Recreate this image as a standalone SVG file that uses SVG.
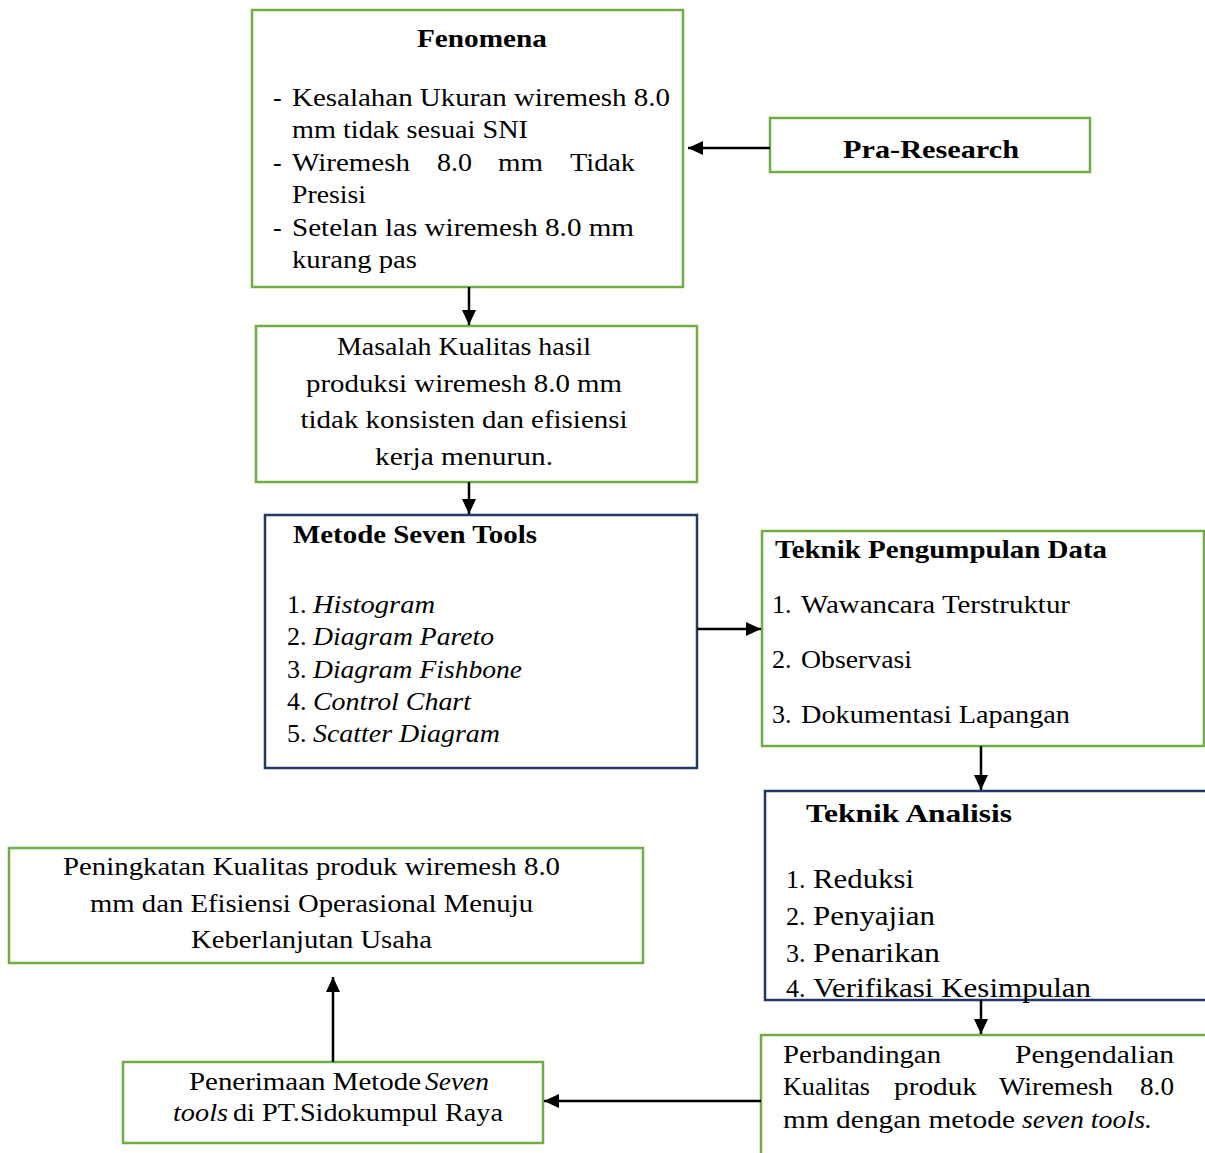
<svg xmlns="http://www.w3.org/2000/svg" width="1205" height="1153" viewBox="0 0 1205 1153">
<style>
.g{fill:#fff;stroke:#70AD47;stroke-width:2.5}
.b{fill:#fff;stroke:#203864;stroke-width:2.5}
text{font-family:"Liberation Serif","Times New Roman",serif;fill:#000;font-size:26px}
.h{font-weight:bold;font-size:26px}
.c{text-anchor:middle}
.i{font-style:italic}
.n{font-size:27px}
.conn{stroke:#000;stroke-width:2.5;fill:none;marker-end:url(#ah)}
</style>
<defs>
<marker id="ah" markerUnits="userSpaceOnUse" markerWidth="16" markerHeight="14" refX="15" refY="7" orient="auto">
<path d="M0,0 L15,7 L0,14 Z" fill="#000"/>
</marker>
</defs>
<rect width="1205" height="1153" fill="#fff"/>

<g id="fenomena">
<rect class="g" x="252" y="10" width="431" height="277"/>
<text class="h" x="482" y="47" text-anchor="middle" textLength="130" lengthAdjust="spacingAndGlyphs">Fenomena</text>
<text x="273" y="106">-</text>
<text x="292" y="106" textLength="378" lengthAdjust="spacingAndGlyphs">Kesalahan Ukuran wiremesh 8.0</text>
<text x="292" y="138" textLength="236" lengthAdjust="spacingAndGlyphs">mm tidak sesuai SNI</text>
<text x="273" y="171">-</text>
<text x="292" y="171" textLength="118" lengthAdjust="spacingAndGlyphs">Wiremesh</text>
<text x="437" y="171" textLength="35" lengthAdjust="spacingAndGlyphs">8.0</text>
<text x="498" y="171" textLength="45" lengthAdjust="spacingAndGlyphs">mm</text>
<text x="570" y="171" textLength="65" lengthAdjust="spacingAndGlyphs">Tidak</text>
<text x="292" y="203" textLength="74" lengthAdjust="spacingAndGlyphs">Presisi</text>
<text x="273" y="236">-</text>
<text x="292" y="236" textLength="342" lengthAdjust="spacingAndGlyphs">Setelan las wiremesh 8.0 mm</text>
<text x="292" y="268" textLength="125" lengthAdjust="spacingAndGlyphs">kurang pas</text>
</g>

<g id="pra-research">
<rect class="g" x="770" y="118" width="320" height="54"/>
<text class="h" x="931" y="158" text-anchor="middle" font-size="28" textLength="176" lengthAdjust="spacingAndGlyphs">Pra-Research</text>
</g>

<g id="masalah">
<rect class="g" x="256" y="326" width="441" height="156"/>
<text class="c" x="464" y="355" textLength="254" lengthAdjust="spacingAndGlyphs">Masalah Kualitas hasil</text>
<text class="c" x="464" y="392" textLength="316" lengthAdjust="spacingAndGlyphs">produksi wiremesh 8.0 mm</text>
<text class="c" x="464" y="428" textLength="327" lengthAdjust="spacingAndGlyphs">tidak konsisten dan efisiensi</text>
<text class="c" x="464" y="465" textLength="178" lengthAdjust="spacingAndGlyphs">kerja menurun.</text>
</g>

<g id="metode">
<rect class="b" x="265" y="515" width="432" height="253"/>
<text class="h" x="293" y="543" textLength="244" lengthAdjust="spacingAndGlyphs">Metode Seven Tools</text>
<text x="287" y="613">1.</text>
<text class="i" x="313" y="613" textLength="122" lengthAdjust="spacingAndGlyphs">Histogram</text>
<text x="287" y="645">2.</text>
<text class="i" x="313" y="645" textLength="181" lengthAdjust="spacingAndGlyphs">Diagram Pareto</text>
<text x="287" y="678">3.</text>
<text class="i" x="313" y="678" textLength="209" lengthAdjust="spacingAndGlyphs">Diagram Fishbone</text>
<text x="287" y="710">4.</text>
<text class="i" x="313" y="710" textLength="158" lengthAdjust="spacingAndGlyphs">Control Chart</text>
<text x="287" y="742">5.</text>
<text class="i" x="313" y="742" textLength="187" lengthAdjust="spacingAndGlyphs">Scatter Diagram</text>
</g>

<g id="teknik-pengumpulan">
<rect class="g" x="762" y="531" width="442" height="215"/>
<text class="h" x="775" y="558" textLength="332" lengthAdjust="spacingAndGlyphs">Teknik Pengumpulan Data</text>
<text x="772" y="613">1.</text>
<text x="801" y="613" textLength="269" lengthAdjust="spacingAndGlyphs">Wawancara Terstruktur</text>
<text x="772" y="668">2.</text>
<text x="801" y="668" textLength="111" lengthAdjust="spacingAndGlyphs">Observasi</text>
<text x="772" y="723">3.</text>
<text x="801" y="723" textLength="269" lengthAdjust="spacingAndGlyphs">Dokumentasi Lapangan</text>
</g>

<g id="teknik-analisis">
<rect class="b" x="765" y="791" width="445" height="209"/>
<text class="h" x="806" y="822" font-size="28" textLength="206" lengthAdjust="spacingAndGlyphs">Teknik Analisis</text>
<text x="786" y="888" font-size="22">1.</text>
<text class="n" x="813" y="888" textLength="101" lengthAdjust="spacingAndGlyphs">Reduksi</text>
<text x="786" y="925" font-size="22">2.</text>
<text class="n" x="813" y="925" textLength="122" lengthAdjust="spacingAndGlyphs">Penyajian</text>
<text x="786" y="962" font-size="22">3.</text>
<text class="n" x="813" y="962" textLength="127" lengthAdjust="spacingAndGlyphs">Penarikan</text>
<text x="786" y="997" font-size="22">4.</text>
<text class="n" x="813" y="997" textLength="278" lengthAdjust="spacingAndGlyphs">Verifikasi Kesimpulan</text>
</g>

<g id="perbandingan">
<rect class="g" x="761" y="1035" width="449" height="130"/>
<text x="783" y="1063" textLength="158" lengthAdjust="spacingAndGlyphs">Perbandingan</text>
<text x="1015" y="1063" textLength="159" lengthAdjust="spacingAndGlyphs">Pengendalian</text>
<text x="783" y="1095" textLength="87" lengthAdjust="spacingAndGlyphs">Kualitas</text>
<text x="894" y="1095" textLength="83" lengthAdjust="spacingAndGlyphs">produk</text>
<text x="999" y="1095" textLength="114" lengthAdjust="spacingAndGlyphs">Wiremesh</text>
<text x="1140" y="1095" textLength="34" lengthAdjust="spacingAndGlyphs">8.0</text>
<text x="783" y="1128" textLength="232" lengthAdjust="spacingAndGlyphs">mm dengan metode</text>
<text class="i" x="1022" y="1128" textLength="130" lengthAdjust="spacingAndGlyphs">seven tools.</text>
</g>

<g id="penerimaan">
<rect class="g" x="123" y="1062" width="420" height="81"/>
<text x="189" y="1090" textLength="232" lengthAdjust="spacingAndGlyphs">Penerimaan Metode</text>
<text class="i" x="425" y="1090" textLength="64" lengthAdjust="spacingAndGlyphs">Seven</text>
<text class="i" x="173" y="1121" textLength="55" lengthAdjust="spacingAndGlyphs">tools</text>
<text x="233" y="1121" textLength="270" lengthAdjust="spacingAndGlyphs">di PT.Sidokumpul Raya</text>
</g>

<g id="peningkatan">
<rect class="g" x="9" y="848" width="634" height="115"/>
<text x="63" y="875" textLength="497" lengthAdjust="spacingAndGlyphs">Peningkatan Kualitas produk wiremesh 8.0</text>
<text x="90" y="912" textLength="443" lengthAdjust="spacingAndGlyphs">mm dan Efisiensi Operasional Menuju</text>
<text x="191" y="948" textLength="241" lengthAdjust="spacingAndGlyphs">Keberlanjutan Usaha</text>
</g>

<g id="connectors">
<line class="conn" x1="770" y1="148" x2="688" y2="148"/>
<line class="conn" x1="469" y1="287" x2="469" y2="325"/>
<line class="conn" x1="469" y1="482" x2="469" y2="514"/>
<line class="conn" x1="697" y1="629" x2="761" y2="629"/>
<line class="conn" x1="981" y1="746" x2="981" y2="790"/>
<line class="conn" x1="981" y1="1000" x2="981" y2="1034"/>
<line class="conn" x1="761" y1="1101" x2="544" y2="1101"/>
<line class="conn" x1="333" y1="1062" x2="333" y2="977"/>
</g>
</svg>
